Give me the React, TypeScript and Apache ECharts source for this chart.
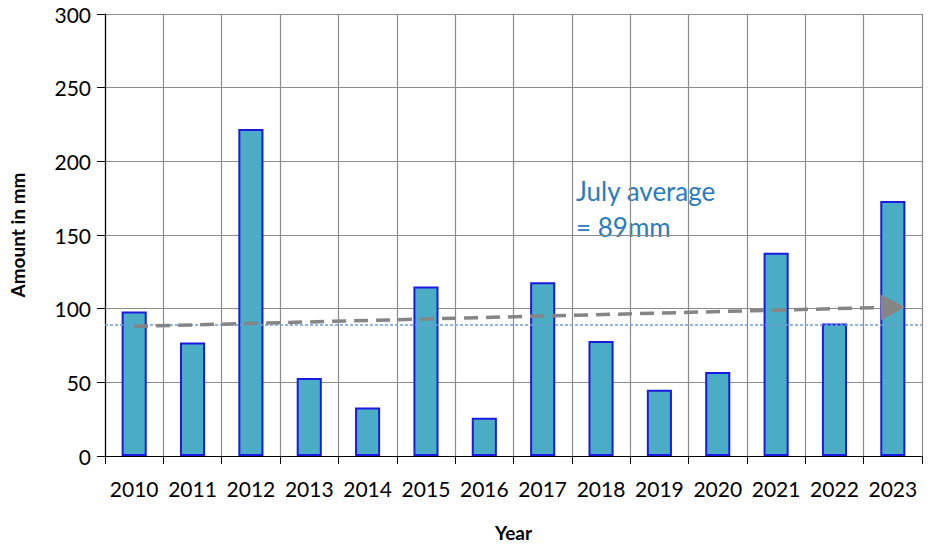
import React, { useEffect, useRef } from "react";
import * as echarts from "echarts";

const years = ["2010", "2011", "2012", "2013", "2014", "2015", "2016", "2017", "2018", "2019", "2020", "2021", "2022", "2023"];
const rainfall = [98, 77, 222, 53, 33, 115, 26, 118, 78, 45, 57, 138, 90, 173];
const julyAverage = 89;
const trendStart = 88;
const trendEnd = 101;
const yTicks = [0, 300, 50];

export default function App() {
  const ref = useRef<HTMLDivElement>(null);
  useEffect(() => {
    const chart = echarts.init(ref.current!, null, { renderer: "svg" });
    const font = "Lato, 'Open Sans', sans-serif";
    chart.setOption({
      animation: false,
      backgroundColor: "#ffffff",
      textStyle: { fontFamily: font },
      grid: { left: 97, right: 10, top: 14, bottom: 89 },
      xAxis: {
        type: "category",
        data: years,
        name: "Year",
        nameLocation: "middle",
        nameGap: 67,
        nameTextStyle: { fontSize: 19, fontWeight: "bold", color: "#000", fontFamily: font },
        axisLine: { lineStyle: { color: "#000", width: 1.2 } },
        axisTick: { show: true, length: 8, interval: 0, lineStyle: { color: "#000" } },
        axisLabel: { fontSize: 21, color: "#000", margin: 22, interval: 0, fontFamily: font },
        splitLine: { show: true, interval: 0, lineStyle: { color: "#8c8c8c", width: 1.2 } },
      },
      yAxis: {
        type: "value",
        min: yTicks[0],
        max: yTicks[1],
        interval: yTicks[2],
        name: "Amount in mm",
        nameLocation: "middle",
        nameGap: 78,
        nameTextStyle: { fontSize: 19, fontWeight: "bold", color: "#000", fontFamily: font },
        axisLine: { show: true, lineStyle: { color: "#000", width: 1.2 } },
        axisTick: { show: true, length: 8, lineStyle: { color: "#000" } },
        axisLabel: { fontSize: 21, color: "#000", margin: 14, fontFamily: font },
        splitLine: { show: true, lineStyle: { color: "#8c8c8c", width: 1.2 } },
      },
      series: [
        {
          type: "bar",
          data: rainfall,
          barWidth: "43%",
          itemStyle: { color: "#4bacc6", borderColor: "#1a1ae0", borderWidth: 2 },
          markLine: {
            silent: true,
            symbol: "none",
            label: { show: false },
            data: [
              {
                yAxis: julyAverage,
                lineStyle: { color: "#6f9fd8", type: [3, 2], width: 1.5 },
              },
            ],
          },
          z: 2,
        },
        {
          type: "line",
          data: [],
          markLine: {
            silent: true,
            symbol: ["none", "triangle"],
            symbolSize: [26, 24],
            label: { show: false },
            lineStyle: { color: "#858585", type: [14, 8], width: 3.5 },
            data: [
              [
                { coord: [years[0], trendStart] },
                { coord: [years[years.length - 1], trendEnd] },
              ],
            ],
          },
          z: 5,
        },
      ],
      graphic: [
        {
          type: "text",
          left: 576,
          top: 173,
          style: {
            text: "July average\n= " + julyAverage + "mm",
            fill: "#2a7cbc",
            fontSize: 26,
            lineHeight: 36,
            fontFamily: font,
          },
        },
      ],
    });
    return () => chart.dispose();
  }, []);
  return <div ref={ref} style={{ position: "absolute", left: 0, top: 0, width: 932, height: 547 }} />;
}
